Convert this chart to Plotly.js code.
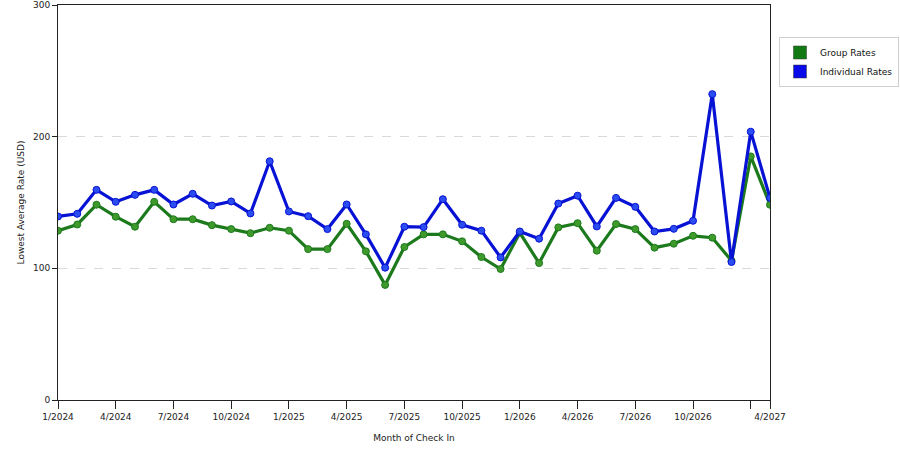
<!DOCTYPE html>
<html>
<head>
<meta charset="utf-8">
<script src="https://cdn.plot.ly/plotly-3.0.1.min.js"></script>
<style>
  html, body { margin: 0; padding: 0; background: #fff; }
  #chart { width: 900px; height: 450px; }
</style>
</head>
<body>
<div id="chart"></div>
<script>
// month index 0 = 1/2024 ... 36 = 1/2027, 37 = 4/2027
const monthIdx = [0,1,2,3,4,5,6,7,8,9,10,11,12,13,14,15,16,17,18,19,
                  20,21,22,23,24,25,26,27,28,29,30,31,32,33,34,35,36,37];

const groupRates = [128.6,133.3,148.3,139.2,131.6,150.5,137.3,137.3,132.8,129.8,
                    126.7,130.8,128.6,114.6,114.6,133.8,112.9,87.4,116.2,125.8,
                    125.8,120.5,108.6,99.5,127.0,104.0,131.1,134.3,113.4,133.6,
                    129.8,115.7,118.7,124.7,123.3,105.8,185.0,148.3];

const individualRates = [139.4,141.4,159.6,150.5,155.8,159.6,148.5,156.6,147.7,150.8,
                         141.7,181.3,143.2,139.6,129.8,148.5,125.8,100.5,131.6,131.3,
                         152.5,133.1,128.6,108.3,128.0,122.5,149.2,155.2,131.8,153.5,
                         146.7,128.0,130.0,136.1,232.3,104.8,203.8,153.5];

const tickVals = [0,3,6,9,12,15,18,21,24,27,30,33,36,37];
const tickText = ['1/2024','4/2024','7/2024','10/2024','1/2025','4/2025','7/2025',
                  '10/2025','1/2026','4/2026','7/2026','10/2026','','4/2027'];

const GREEN = '#1c7a1c';
const GREEN_PT = '#3f9a2c';
const BLUE = '#0712d4';
const BLUE_PT = '#2a4cf0';
const FONT = 'DejaVu Sans, Verdana, sans-serif';

function seriesTrace(y, lineColor, ptColor) {
    return {
        x: monthIdx, y, type: 'scatter', mode: 'lines+markers',
        line: { color: lineColor, width: 3.2 },
        marker: { color: ptColor, size: 7, line: { color: lineColor, width: 1 } },
        showlegend: false, hoverinfo: 'skip'
    };
}

function legendTrace(name, color) {
    return {
        x: [null], y: [null], type: 'scatter', mode: 'markers', name,
        marker: { color, size: 13, symbol: 'square', line: { color: '#333', width: 0.5 } }
    };
}

const traces = [
    seriesTrace(groupRates, GREEN, GREEN_PT),
    seriesTrace(individualRates, BLUE, BLUE_PT),
    legendTrace('Group Rates', '#127a12'),
    legendTrace('Individual Rates', '#0a0ae8')
];

const layout = {
    width: 900, height: 450,
    margin: { l: 58, r: 130, t: 5, b: 50 },
    paper_bgcolor: '#fff', plot_bgcolor: '#fff',
    font: { family: FONT, size: 9, color: '#222' },
    showlegend: true,
    legend: {
        xref: 'container', yref: 'container',
        x: 779 / 900, y: 1 - 37 / 450, xanchor: 'left', yanchor: 'top',
        bordercolor: '#cfcfcf', borderwidth: 1, bgcolor: '#fff',
        font: { family: FONT, size: 9, color: '#111' },
        itemwidth: 30, tracegroupgap: 2
    },
    xaxis: {
        range: [0, 37], tickmode: 'array', tickvals: tickVals, ticktext: tickText,
        showgrid: false, zeroline: false,
        showline: true, linecolor: '#222', linewidth: 1, mirror: true,
        ticks: 'outside', ticklen: 8, tickcolor: '#222',
        tickfont: { family: FONT, size: 9, color: '#222' },
        title: { text: 'Month of Check In', font: { family: FONT, size: 9, color: '#222' }, standoff: 13 }
    },
    yaxis: {
        range: [0, 300], tickvals: [0, 100, 200, 300],
        showgrid: true, gridcolor: '#d9d9d9', griddash: 'dash', gridwidth: 1,
        zeroline: false,
        showline: true, linecolor: '#222', linewidth: 1, mirror: true,
        ticks: 'outside', ticklen: 5, tickcolor: '#222',
        tickfont: { family: FONT, size: 9, color: '#222' },
        title: { text: 'Lowest Average Rate (USD)', font: { family: FONT, size: 9, color: '#222' }, standoff: 6 }
    }
};

Plotly.newPlot('chart', traces, layout, { staticPlot: true, displayModeBar: false });
</script>
</body>
</html>
